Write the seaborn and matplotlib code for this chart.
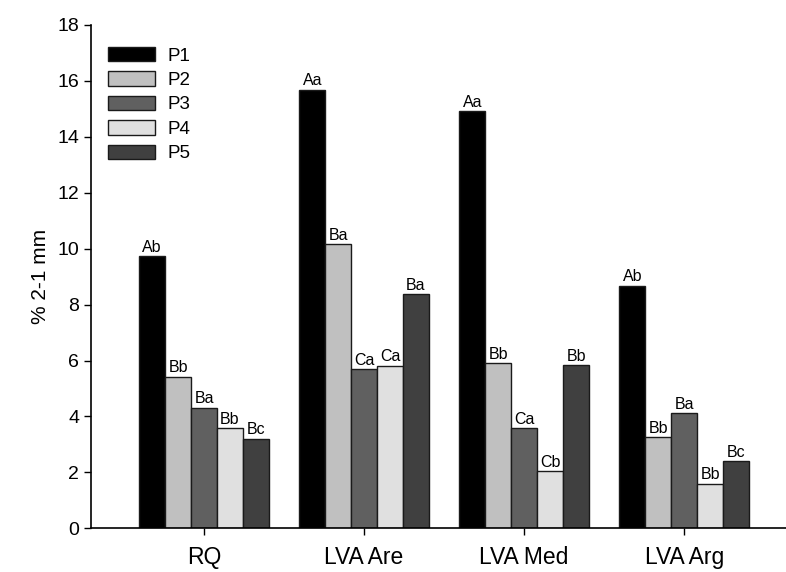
import matplotlib
matplotlib.use("Agg")
import matplotlib.pyplot as plt
import seaborn as sns
import pandas as pd

categories = ["RQ", "LVA Are", "LVA Med", "LVA Arg"]
series = ["P1", "P2", "P3", "P4", "P5"]
values = {
    "P1": [9.73, 15.68, 14.92, 8.67],
    "P2": [5.42, 10.16, 5.90, 3.25],
    "P3": [4.31, 5.70, 3.59, 4.11],
    "P4": [3.59, 5.81, 2.04, 1.59],
    "P5": [3.20, 8.37, 5.84, 2.40],
}
letters = {
    "P1": ["Ab", "Aa", "Aa", "Ab"],
    "P2": ["Bb", "Ba", "Bb", "Bb"],
    "P3": ["Ba", "Ca", "Ca", "Ba"],
    "P4": ["Bb", "Ca", "Cb", "Bb"],
    "P5": ["Bc", "Ba", "Bb", "Bc"],
}
colors = ["#000000", "#c0c0c0", "#606060", "#e0e0e0", "#404040"]
yticks = [0, 2, 4, 6, 8, 10, 12, 14, 16, 18]

rows = []
for s in series:
    for c, v in zip(categories, values[s]):
        rows.append({"cat": c, "series": s, "val": v})
df = pd.DataFrame(rows)

sns.set_style("ticks")
plt.rcParams["font.family"] = ["Liberation Sans", "DejaVu Sans"]
plt.rcParams["text.color"] = "black"
plt.rcParams["axes.labelcolor"] = "black"

fig = plt.figure(figsize=(7.86, 5.72), dpi=100)
ax = fig.add_axes([0.1158, 0.0764, 0.8842, 0.8799])

sns.barplot(data=df, x="cat", y="val", hue="series", order=categories,
            hue_order=series, palette=colors, width=0.81, gap=0,
            edgecolor="#1a1a1a", linewidth=1.0, ax=ax, errorbar=None)

for cont, s in zip(ax.containers, series):
    ax.bar_label(cont, labels=letters[s], padding=1, fontsize=11.5, color="black")

ax.set_xlim(-0.706, 3.636)
ax.set_ylim(0, 18)
ax.set_yticks(yticks)
ax.set_xlabel("")
ax.set_ylabel("% 2-1 mm", fontsize=15, labelpad=5, color="black")
ax.tick_params(axis="y", labelsize=14, direction="out", length=5, width=1, colors="black")
ax.tick_params(axis="x", labelsize=16.5, direction="out", length=5, width=1, pad=8, colors="black")
for sp in ["top", "right"]:
    ax.spines[sp].set_visible(False)
for sp in ["left", "bottom"]:
    ax.spines[sp].set_linewidth(1.2)
    ax.spines[sp].set_color("black")

leg = ax.legend(loc="upper left", bbox_to_anchor=(0.0, 0.99), frameon=False,
                fontsize=13.5, handlelength=2.5, handleheight=0.8,
                labelspacing=0.36, handletextpad=0.7, title=None)
for t in leg.get_texts():
    t.set_color("black")

fig.savefig("out.png", dpi=100)
